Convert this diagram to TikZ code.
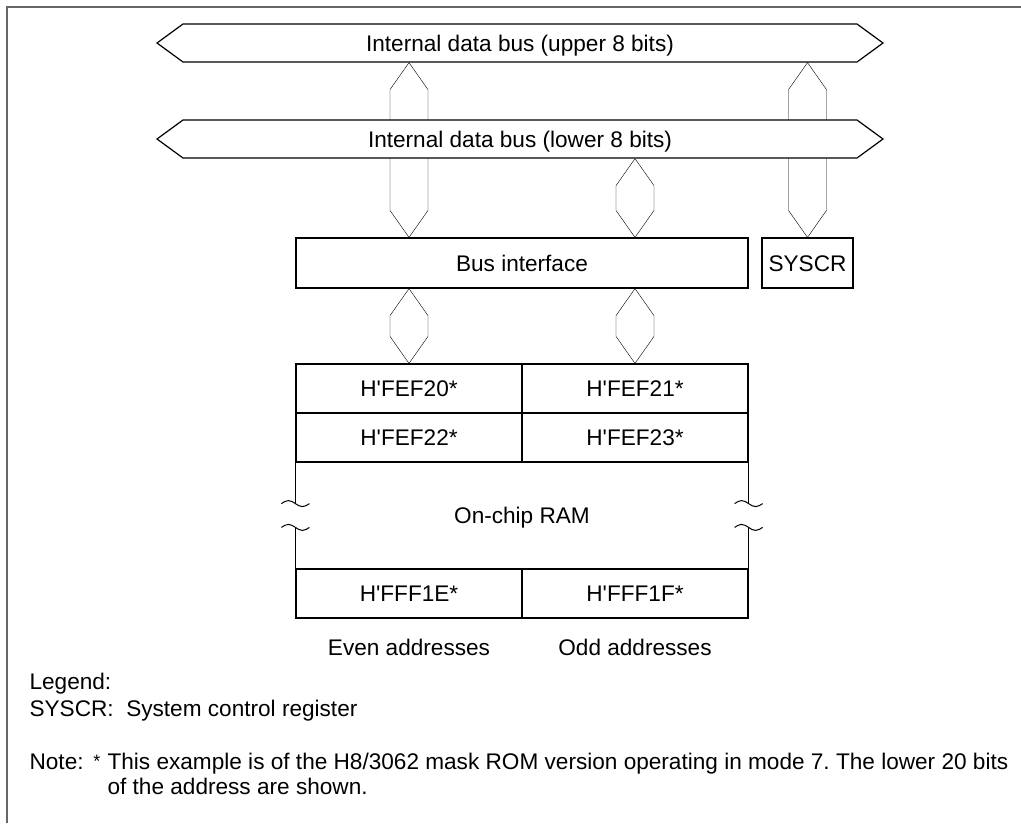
\documentclass[tikz,border=0pt]{standalone}
\usepackage{fontspec}
\setmainfont{Liberation Sans}
\usetikzlibrary{calc,backgrounds}
\frenchspacing

\tikzset{px/.style={x=1pt,y=-1pt,line width=1.2pt,font=\fontsize{22.6}{26}\selectfont}}
\tikzset{busline/.style={draw=black,fill=white,line join=miter},
         bustext/.style={minimum width=674pt,minimum height=38pt,inner sep=0pt,
                         text height=16.2pt,text depth=0pt},
         cell/.style={draw,minimum width=226pt,minimum height=49pt,inner sep=0pt,
                      text height=16.2pt,text depth=0pt},
         txt/.style={inner sep=0pt},
         frameline/.style={black!60,line width=1.3pt}}

% double headed bus between two points (top, bottom)
\newcommand{\busconn}[2]{%
  \path (#1) coordinate (vt) (#2) coordinate (vb);
  \draw[busline] (vt) -- ([shift={(19,27)}]vt) -- ([shift={(19,-27)}]vb) -- (vb)
    -- ([shift={(-19,-27)}]vb) -- ([shift={(-19,27)}]vt) -- cycle;}
\newcommand{\hq}{\textquotesingle}

\begin{document}
\begin{tikzpicture}[px]
    \useasboundingbox (0,0) rectangle (1021,823);
    \draw[frameline] (1021,7) -- (7,7) -- (7,823);

    % internal buses
    \foreach \y/\nm/\t in {43/upbus/upper,139/lowbus/lower} {
        \draw[busline] (157,\y) -- (183,\y-19) -- (857,\y-19) -- (883,\y)
            -- (857,\y+19) -- (183,\y+19) -- cycle;
        \node[bustext] (\nm) at (520,\y) {Internal data bus (\t\ 8 bits)};
    }

    \node[cell,minimum width=452pt,minimum height=50pt] (busif) at (522,263) {Bus interface};
    \node[cell,minimum width=91pt,minimum height=50pt] (syscr) at (807.5,263) {SYSCR};

    % on-chip RAM
    \node[cell] (c20) at (409,388.5) {H\hq FEF20*};
    \node[cell] (c21) at (635,388.5) {H\hq FEF21*};
    \node[cell] (c22) at (409,437.5) {H\hq FEF22*};
    \node[cell] (c23) at (635,437.5) {H\hq FEF23*};
    \node[cell] (c1E) at (409,593.5) {H\hq FFF1E*};
    \node[cell] (c1F) at (635,593.5) {H\hq FFF1F*};
    \draw (c22.south west) -- ++(0,41) coordinate (brkla);
    \draw (c1E.north west) -- ++(0,-41) coordinate (brklb);
    \draw (c23.south east) -- ++(0,41) coordinate (brkra);
    \draw (c1F.north east) -- ++(0,-41) coordinate (brkrb);
    \foreach \b in {brkla,brklb,brkra,brkrb}
        \draw[line width=1pt] ([xshift=-14pt]\b) sin ++(7,-3) cos ++(7,3) sin ++(7,3) cos ++(7,-3);
    \node[txt,text depth=0pt] (ram) at ($(c22.south east)!0.5!(c1F.north west)$) {On-chip RAM};

    \node[txt,anchor=base] (even) at (409,655) {Even addresses};
    \node[txt,anchor=base] (odd) at (635,655) {Odd addresses};

    % legend and note
    \node[txt,anchor=base west] (legend) at (29,689) {Legend:};
    \node[txt,anchor=base west] (legsys) at (29,716) {SYSCR:\ \ System control register};
    \node[txt,anchor=base west] (note) at (29,769) {Note:};
    \node[txt,anchor=base,font=\fontsize{18}{20}\selectfont] (star) at (97,767) {*};
    \node[txt,anchor=base west] (note1) at (107,769)
        {This example is of the H8/3062 mask ROM version operating in mode 7. The lower 20 bits};
    \node[txt,anchor=base west] (note2) at (107,794) {of the address are shown.};

    \begin{pgfonlayer}{background}
        \busconn{c20.north |- upbus.south}{c20.north |- busif.north}
        \busconn{syscr.north |- upbus.south}{syscr.north}
        \busconn{c21.north |- lowbus.south}{c21.north |- busif.north}
        \busconn{c20.north |- busif.south}{c20.north}
        \busconn{c21.north |- busif.south}{c21.north}
    \end{pgfonlayer}
\end{tikzpicture}
\end{document}
